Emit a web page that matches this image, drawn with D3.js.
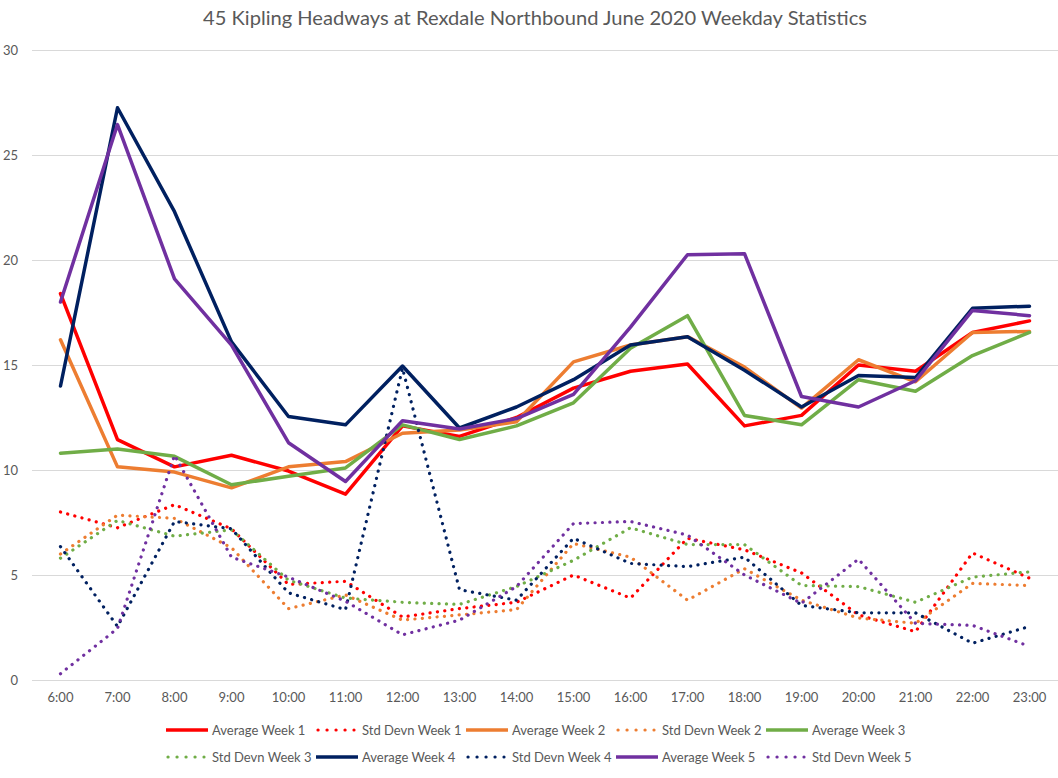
<!DOCTYPE html>
<html>
<head>
<meta charset="utf-8">
<script src="https://cdn.jsdelivr.net/npm/d3@7"></script>
<style>
  body { margin: 0; background: #fff; }
  text { font-family: Lato, "Open Sans", sans-serif; fill: #595959; }
</style>
</head>
<body>
<div id="chart"></div>
<script>
var hours = ["6:00","7:00","8:00","9:00","10:00","11:00","12:00","13:00","14:00","15:00","16:00","17:00","18:00","19:00","20:00","21:00","22:00","23:00"];

var avgWeek1 = [18.4, 11.45, 10.15, 10.7, 9.95, 8.85, 12.1, 11.6, 12.5, 13.9, 14.7, 15.05, 12.1, 12.6, 15.0, 14.7, 16.55, 17.1];
var stdWeek1 = [8.0, 7.25, 8.35, 7.2, 4.55, 4.7, 3.0, 3.4, 3.7, 5.0, 3.9, 6.75, 6.2, 5.1, 3.1, 2.3, 6.05, 4.85];
var avgWeek2 = [16.2, 10.15, 9.9, 9.15, 10.15, 10.4, 11.75, 11.9, 12.3, 15.15, 15.95, 16.35, 14.9, 12.95, 15.25, 14.2, 16.55, 16.6];
var stdWeek2 = [6.0, 7.85, 7.7, 6.3, 3.4, 4.05, 2.85, 3.1, 3.35, 6.5, 5.85, 3.8, 5.3, 3.8, 2.95, 2.7, 4.6, 4.5];
var avgWeek3 = [10.8, 11.0, 10.65, 9.3, 9.7, 10.1, 12.15, 11.45, 12.1, 13.2, 15.8, 17.35, 12.6, 12.15, 14.3, 13.75, 15.45, 16.55];
var stdWeek3 = [5.8, 7.6, 6.85, 7.15, 4.75, 3.9, 3.7, 3.6, 4.45, 5.7, 7.25, 6.45, 6.45, 4.5, 4.45, 3.7, 4.9, 5.15];
var avgWeek4 = [14.0, 27.25, 22.3, 16.1, 12.55, 12.15, 14.95, 12.0, 13.0, 14.3, 15.95, 16.35, 14.75, 13.0, 14.5, 14.4, 17.7, 17.8];
var stdWeek4 = [6.35, 2.55, 7.55, 7.2, 4.15, 3.35, 14.85, 4.3, 3.8, 6.75, 5.55, 5.4, 5.85, 3.55, 3.2, 3.2, 1.75, 2.55];
var avgWeek5 = [18.0, 26.45, 19.1, 15.95, 11.3, 9.45, 12.35, 11.95, 12.45, 13.6, 16.8, 20.25, 20.3, 13.5, 13.0, 14.25, 17.6, 17.35];
var stdWeek5 = [0.3, 2.45, 10.7, 5.85, 4.9, 3.75, 2.15, 2.85, 4.45, 7.45, 7.55, 6.9, 5.0, 3.65, 5.75, 2.7, 2.6, 1.6];

var yTicks = [0, 5, 10, 15, 20, 25, 30];

var seriesNames = ["Average Week 1", "Std Devn Week 1", "Average Week 2", "Std Devn Week 2", "Average Week 3",
                   "Std Devn Week 3", "Average Week 4", "Std Devn Week 4", "Average Week 5", "Std Devn Week 5"];
var seriesColors = ["#ff0000", "#ff0000", "#ed7d31", "#ed7d31", "#70ad47", "#70ad47", "#002060", "#002060", "#7030a0", "#7030a0"];
var seriesValues = [avgWeek1, stdWeek1, avgWeek2, stdWeek2, avgWeek3, stdWeek3, avgWeek4, stdWeek4, avgWeek5, stdWeek5];

var svgWidth = 1058, svgHeight = 778;
var plot = {left: 32, right: 1058, top: 50, bottom: 680};

var svg = d3.select("#chart").append("svg")
    .attr("width", svgWidth)
    .attr("height", svgHeight)

var x = d3.scaleBand()
    .domain(hours)
    .range([plot.left, plot.right]);

var y = d3.scaleLinear()
    .domain([0, 30])
    .range([plot.bottom, plot.top]);

svg.append("text")
    .attr("x", 203)
    .attr("y", 25)
    .attr("textLength", 664)
    .attr("lengthAdjust", "spacingAndGlyphs")
    .style("font-size", "19px")
    .text("45 Kipling Headways at Rexdale Northbound June 2020 Weekday Statistics")

// gridlines
svg.append("g")
    .attr("class", "y grid")
    .attr("transform", `translate(${plot.left}, 0)`)
    .call(d3.axisLeft(y).tickValues(yTicks).tickSize(-(plot.right - plot.left)).tickFormat(""))
    .call(g => g.select(".domain").remove())
    .call(g => g.selectAll("line").attr("stroke", "#d9d9d9"))

// y labels
svg.append("g")
    .attr("transform", `translate(${plot.left}, 0)`)
    .call(d3.axisLeft(y).tickValues(yTicks).tickSize(0).tickPadding(14))
    .call(g => g.select(".domain").remove())
    .call(g => g.selectAll("text").style("font-size", "13px").style("fill", "#595959").style("font-family", null))

// x axis
svg.append("g")
    .attr("transform", `translate(0, ${plot.bottom})`)
    .call(d3.axisBottom(x).tickSize(0).tickPadding(13))
    .call(g => g.select(".domain").attr("stroke", "#d9d9d9"))
    .call(g => g.selectAll("text").style("font-size", "13px").style("fill", "#595959").style("font-family", null))

var line = d3.line()
    .x((d, i) => x(hours[i]) + x.bandwidth() / 2)
    .y(d => y(d));

seriesValues.forEach((vals, k) => {
    var dotted = k % 2 == 1;
    svg.append("path")
        .datum(vals)
        .attr("fill", "none")
        .attr("stroke", seriesColors[k])
        .attr("stroke-width", dotted ? 3.2 : 3.5)
        .attr("stroke-linecap", "round")
        .attr("stroke-linejoin", "round")
        .attr("stroke-dasharray", dotted ? "0.1 7.3" : null)
        .attr("d", line);
});

// legend, 5 per row
var legend = svg.append("g")
    .attr("class", "legend")

seriesNames.forEach((name, k) => {
    var col = k % 5, row = Math.floor(k / 5);
    var lx = 166 + col * 150, ly = 730 + row * 27;
    var dotted = k % 2 == 1;
    legend.append("line")
        .attr("x1", lx + (dotted ? 2 : 0))
        .attr("x2", lx + (dotted ? 38 : 42))
        .attr("y1", ly)
        .attr("y2", ly)
        .attr("stroke", seriesColors[k])
        .attr("stroke-width", dotted ? 3.2 : 3.5)
        .attr("stroke-linecap", dotted ? "round" : "butt")
        .attr("stroke-dasharray", dotted ? "0.1 8.9" : null)
    legend.append("text")
        .attr("x", lx + 46)
        .attr("y", ly + 4.5)
        .style("font-size", "13px")
        .text(name)
});
</script>
</body>
</html>
